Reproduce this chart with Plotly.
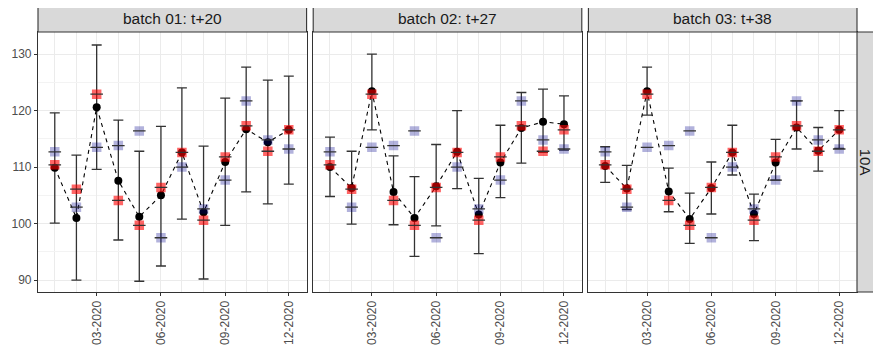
import plotly.graph_objects as go

months = ["2020-01-01", "2020-02-01", "2020-03-01", "2020-04-01", "2020-05-01", "2020-06-01",
          "2020-07-01", "2020-08-01", "2020-09-01", "2020-10-01", "2020-11-01", "2020-12-01"]

red_vals = [110.4, 106.1, 122.9, 104.1, 99.7, 106.4, 112.6, 100.6, 111.8, 117.3, 112.8, 116.6]
blue_vals = [112.7, 102.9, 113.5, 113.8, 116.4, 97.5, 110.0, 102.6, 107.7, 121.7, 114.8, 113.2]

batch_labels = ["batch 01: t+20", "batch 02: t+27", "batch 03: t+38"]
row_label = "10A"

b1_mean = [109.9, 101.0, 120.6, 107.6, 101.2, 105.0, 112.6, 102.0, 110.9, 116.7, 114.4, 116.6]
b1_upper = [119.6, 112.1, 131.6, 118.3, 112.8, 117.2, 124.0, 113.7, 122.2, 127.7, 125.4, 126.1]
b1_lower = [100.1, 90.0, 109.6, 97.1, 89.8, 92.5, 100.8, 90.2, 99.7, 105.6, 103.5, 107.0]

b2_mean = [110.0, 106.3, 123.4, 105.6, 101.0, 106.6, 112.7, 101.6, 110.8, 116.9, 118.0, 117.6]
b2_upper = [115.3, 112.8, 130.0, 112.0, 108.3, 114.0, 120.0, 108.0, 117.4, 123.2, 123.8, 122.6]
b2_lower = [104.8, 99.9, 116.6, 99.8, 94.2, 99.6, 106.2, 94.7, 104.6, 110.7, 112.6, 113.0]

b3_mean = [110.2, 106.2, 123.4, 105.7, 100.8, 106.3, 112.6, 101.7, 110.8, 117.0, 112.9, 116.6]
b3_upper = [113.6, 110.3, 127.7, 109.8, 105.4, 110.9, 117.4, 105.2, 114.9, 121.7, 117.0, 120.0]
b3_lower = [107.3, 102.5, 119.2, 102.1, 96.5, 101.7, 108.6, 97.0, 107.7, 113.2, 109.3, 113.3]

batches = [(b1_mean, b1_upper, b1_lower), (b2_mean, b2_upper, b2_lower), (b3_mean, b3_upper, b3_lower)]

x_tickvals = ["2020-03-01", "2020-06-01", "2020-09-01", "2020-12-01"]
x_ticktext = ["03-2020", "06-2020", "09-2020", "12-2020"]
y_tickvals = [90, 100, 110, 120, 130]

FONT = "Liberation Sans, Arial, sans-serif"
OFF = 8  # page body margin
W, H = 881 - OFF, 349 - OFF
ml, mt = 38.3 - OFF, 32 - OFF
mr, mb = 881 - 856.7, 349 - 292
pw = W - ml - mr
ph = H - mt - mb

def px2paper_x(px):
    return (px - OFF - ml) / pw

domains = [(38.3, 306.7), (313.3, 581.7), (588.3, 856.7)]

fig = go.Figure()

for i, (mean, upper, lower) in enumerate(batches):
    xa = "x" if i == 0 else f"x{i+1}"
    ya = "y" if i == 0 else f"y{i+1}"
    fig.add_trace(go.Scatter(
        x=months, y=mean, mode="markers", xaxis=xa, yaxis=ya,
        marker=dict(size=1, color="rgba(0,0,0,0)"),
        error_y=dict(type="data", symmetric=False,
                     array=[u - m for u, m in zip(upper, mean)],
                     arrayminus=[m - l for m, l in zip(mean, lower)],
                     color="#333333", thickness=1.3, width=5),
        hoverinfo="skip", showlegend=False))
    fig.add_trace(go.Scatter(
        x=months, y=mean, mode="lines", xaxis=xa, yaxis=ya,
        line=dict(color="black", width=1.1, dash="4px,4px"),
        showlegend=False))
    fig.add_trace(go.Scatter(
        x=months, y=mean, mode="markers", xaxis=xa, yaxis=ya,
        marker=dict(size=8, color="black", symbol="circle"),
        showlegend=False))
    fig.add_trace(go.Scatter(
        x=months, y=red_vals, mode="markers", xaxis=xa, yaxis=ya,
        marker=dict(size=9.5, color="rgba(255,0,0,0.6)", symbol="square", line=dict(width=0)),
        showlegend=False))
    fig.add_trace(go.Scatter(
        x=months, y=blue_vals, mode="markers", xaxis=xa, yaxis=ya,
        marker=dict(size=9.5, color="rgba(0,0,139,0.3)", symbol="square", line=dict(width=0)),
        showlegend=False))
    fig.add_trace(go.Scatter(
        x=months + months, y=red_vals + blue_vals, mode="markers", xaxis=xa, yaxis=ya,
        marker=dict(size=9, symbol="line-ew", color="#333333", line=dict(width=1.3, color="#333333")),
        showlegend=False))

layout = dict(
    width=W, height=H,
    margin=dict(l=ml, r=mr, t=mt, b=mb, pad=0, autoexpand=False),
    paper_bgcolor="white", plot_bgcolor="white",
    showlegend=False,
    font=dict(family=FONT, color="#4D4D4D", size=12),
)

for i, (x0, x1) in enumerate(domains):
    sfx = "" if i == 0 else str(i + 1)
    layout["xaxis" + sfx] = dict(
        domain=[px2paper_x(x0), min(1, px2paper_x(x1))],
        type="date", range=["2019-12-08", "2020-12-26 12:00"],
        tickvals=x_tickvals, ticktext=x_ticktext, tickangle=-90,
        ticks="outside", ticklen=3, tickcolor="#333333", tickwidth=1,
        showgrid=True, gridcolor="#EBEBEB", gridwidth=1,
        minor=dict(dtick="M1", tick0="2020-01-01", showgrid=True, gridcolor="#EBEBEB", gridwidth=1, ticks=""),
        showline=True, mirror=True, linecolor="#333333", linewidth=1.1,
        zeroline=False, anchor="y" + sfx, automargin=False,
        tickfont=dict(family=FONT, color="#4D4D4D", size=12),
    )
    layout["yaxis" + sfx] = dict(
        domain=[0, 1], range=[87.9, 133.9],
        tickvals=y_tickvals, showticklabels=(i == 0),
        ticks="outside" if i == 0 else "", ticklen=3, tickcolor="#333333", tickwidth=1,
        showgrid=True, gridcolor="#EBEBEB", gridwidth=1,
        minor=dict(dtick=5, tick0=85, showgrid=True, gridcolor="#F3F3F3", gridwidth=0.7, ticks=""),
        showline=True, mirror=True, linecolor="#333333", linewidth=1.1,
        zeroline=False, anchor="x" + sfx, automargin=False,
        tickfont=dict(family=FONT, color="#4D4D4D", size=12),
    )

fig.update_layout(**layout)

shapes = []
annotations = []
strip_top = 1 + (32 - 5) / ph
for i, (x0, x1) in enumerate(domains):
    shapes.append(dict(type="rect", xref="paper", yref="paper",
                       x0=px2paper_x(x0), x1=px2paper_x(x1), y0=1, y1=strip_top,
                       fillcolor="#D9D9D9", line=dict(color="#333333", width=1.1), layer="above"))
    annotations.append(dict(xref="paper", yref="paper", x=(px2paper_x(x0) + px2paper_x(x1)) / 2,
                            y=(1 + strip_top) / 2, text=batch_labels[i], showarrow=False,
                            font=dict(family=FONT, size=15.5, color="#1A1A1A"),
                            xanchor="center", yanchor="middle"))

shapes.append(dict(type="rect", xref="paper", yref="paper",
                   x0=px2paper_x(856.7), x1=px2paper_x(885), y0=0, y1=1,
                   fillcolor="#D9D9D9", line=dict(color="#333333", width=1.1), layer="above"))
annotations.append(dict(xref="paper", yref="paper", x=px2paper_x(866), y=0.5, text=row_label,
                        showarrow=False, textangle=90,
                        font=dict(family=FONT, size=15, color="#1A1A1A"),
                        xanchor="center", yanchor="middle"))

fig.update_layout(shapes=shapes, annotations=annotations)

fig.write_html("out.html")
